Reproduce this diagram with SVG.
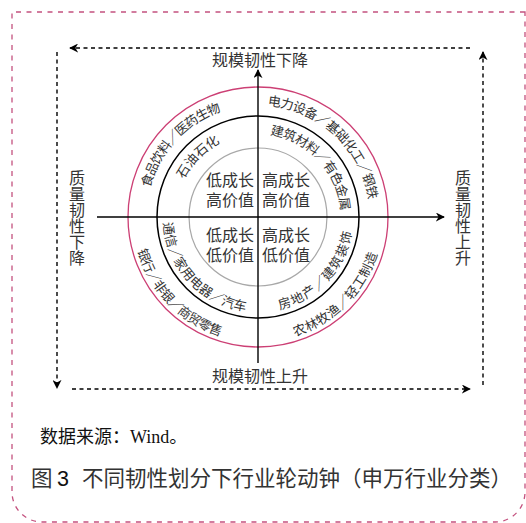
<svg xmlns="http://www.w3.org/2000/svg" xmlns:xlink="http://www.w3.org/1999/xlink" width="526" height="523" viewBox="0 0 526 523">
<style>
.cn{font-family:"Noto Sans CJK SC","Liberation Sans",sans-serif;fill:#333}
.q{font-size:16px;text-anchor:middle}
.ax{font-size:16px;text-anchor:middle}
.arc{font-size:13px}
.solid{stroke:#000;stroke-width:1.4;fill:none}
.dash{stroke:#000;stroke-width:1.4;fill:none;stroke-dasharray:4 3.5}
</style>
<defs>
<marker id="ah" viewBox="0 0 10 10" refX="9" refY="5" markerWidth="9" markerHeight="9" markerUnits="userSpaceOnUse" orient="auto">
<path d="M0,0 L10,5 L0,10 L3,5 z" fill="#000"/>
</marker>
<path id="p1" d="M146.83,230.65 A112,112 0 0 1 263.86,105.15"/>
<path id="p2" d="M175.32,224.23 A83,83 0 0 1 265.23,134.32"/>
<path id="p3" d="M225.25,109.89 A112,112 0 0 1 367.13,242.19"/>
<path id="p4" d="M239.33,136.13 A83,83 0 0 1 337.37,241.27"/>
<path id="p5" d="M167.15,189.22 A95,95 0 0 0 279.37,309.57"/>
<path id="p6" d="M137.84,182.55 A125,125 0 0 0 288.24,338.29"/>
<path id="p7" d="M236.63,309.57 A95,95 0 0 0 348.85,189.22"/>
<path id="p8" d="M225.65,337.74 A125,125 0 0 0 378.74,184.65"/>
</defs>
<rect width="526" height="523" fill="#fff"/>
<g id="frame">
<path d="M525,12 H12 V492 A30,30 0 0 0 42,522 H495 A30,30 0 0 0 525,492 Z" fill="none" stroke="#c4527f" stroke-width="1.3" stroke-dasharray="5 5.5"/>
</g>
<g id="rings">
<circle cx="258" cy="217" r="130" fill="none" stroke="#cc3f74" stroke-width="1.3"/>
<circle cx="258" cy="217" r="101" fill="none" stroke="#000" stroke-width="1.5"/>
<circle cx="258" cy="217" r="69" fill="none" stroke="#a8a8a8" stroke-width="1.2"/>
</g>
<g id="connectors">
<path class="solid" d="M97,217 H444" marker-end="url(#ah)"/>
<path class="solid" d="M258,363 V70" marker-end="url(#ah)"/>
<path class="dash" d="M470,48 H70" marker-end="url(#ah)"/>
<path class="dash" d="M57,52 V388" marker-end="url(#ah)"/>
<path class="dash" d="M72,389 H470" marker-end="url(#ah)"/>
<path class="dash" d="M483,385 V52" marker-end="url(#ah)"/>
</g>
<g id="quad-tl"><text class="cn q" x="230" y="186">低成长</text><text class="cn q" x="230" y="206">高价值</text></g>
<g id="quad-tr"><text class="cn q" x="286" y="186">高成长</text><text class="cn q" x="286" y="206">高价值</text></g>
<g id="quad-bl"><text class="cn q" x="230" y="241">低成长</text><text class="cn q" x="230" y="261">低价值</text></g>
<g id="quad-br"><text class="cn q" x="286" y="241">高成长</text><text class="cn q" x="286" y="261">低价值</text></g>
<g id="ring-tl-outer"><text class="cn arc"><textPath xlink:href="#p1" href="#p1" startOffset="50%" text-anchor="middle" textLength="109" lengthAdjust="spacing">食品饮料／医药生物</textPath></text></g>
<g id="ring-tl-inner"><text class="cn arc" font-size="15"><textPath xlink:href="#p2" href="#p2" startOffset="50%" text-anchor="middle">石油石化</textPath></text></g>
<g id="ring-tr-outer"><text class="cn arc"><textPath xlink:href="#p3" href="#p3" startOffset="50%" text-anchor="middle" textLength="149" lengthAdjust="spacing">电力设备／基础化工／钢铁</textPath></text></g>
<g id="ring-tr-inner"><text class="cn arc"><textPath xlink:href="#p4" href="#p4" startOffset="50%" text-anchor="middle" textLength="112" lengthAdjust="spacing">建筑材料／有色金属</textPath></text></g>
<g id="ring-bl-inner"><text class="cn arc"><textPath xlink:href="#p5" href="#p5" startOffset="50%" text-anchor="middle" textLength="131" lengthAdjust="spacing">通信／家用电器／汽车</textPath></text></g>
<g id="ring-bl-outer"><text class="cn arc"><textPath xlink:href="#p6" href="#p6" startOffset="50%" text-anchor="middle" textLength="124" lengthAdjust="spacing">银行／非银／商贸零售</textPath></text></g>
<g id="ring-br-inner"><text class="cn arc"><textPath xlink:href="#p7" href="#p7" startOffset="50%" text-anchor="middle" textLength="112" lengthAdjust="spacing">房地产／建筑装饰</textPath></text></g>
<g id="ring-br-outer"><text class="cn arc"><textPath xlink:href="#p8" href="#p8" startOffset="50%" text-anchor="middle" textLength="121" lengthAdjust="spacing">农林牧渔／轻工制造</textPath></text></g>
<g id="label-top"><text class="cn ax" x="260" y="66">规模韧性下降</text></g>
<g id="label-bottom"><text class="cn ax" x="260" y="382">规模韧性上升</text></g>
<g id="label-left"><text class="cn ax"><tspan x="77" y="184">质</tspan><tspan x="77" y="200">量</tspan><tspan x="77" y="216">韧</tspan><tspan x="77" y="232">性</tspan><tspan x="77" y="248">下</tspan><tspan x="77" y="264">降</tspan></text></g>
<g id="label-right"><text class="cn ax"><tspan x="463" y="184">质</tspan><tspan x="463" y="200">量</tspan><tspan x="463" y="216">韧</tspan><tspan x="463" y="232">性</tspan><tspan x="463" y="248">上</tspan><tspan x="463" y="264">升</tspan></text></g>
<g id="source"><text x="40" y="443" font-family="'Liberation Serif','Noto Sans CJK SC',serif" font-size="18" fill="#111">数据来源：Wind。</text></g>
<g id="caption"><text y="486" font-family="'Noto Sans CJK SC','Liberation Sans',sans-serif" font-size="21.5" fill="#333"><tspan x="31">图</tspan><tspan x="57" font-family="'Liberation Sans',sans-serif" fill="#111">3</tspan><tspan x="82">不同韧性划分下行业轮动钟（申万行业分类）</tspan></text></g>
</svg>
